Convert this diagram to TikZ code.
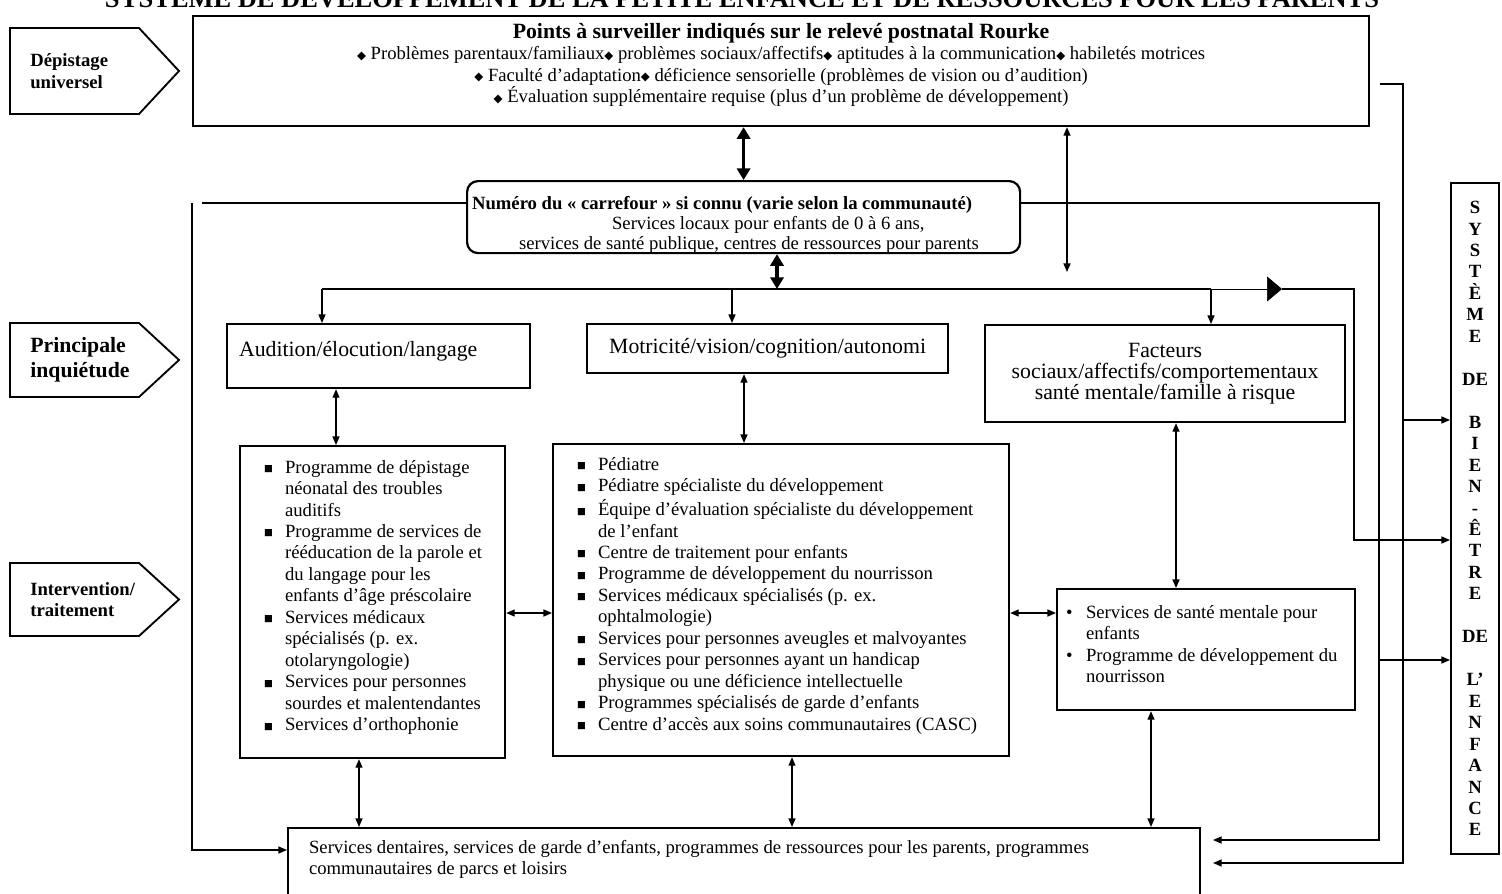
\documentclass[tikz,border=0pt]{standalone}
\usepackage{fontspec}
\setmainfont{Liberation Serif}
\newfontfamily\symfont{DejaVu Sans}
\usetikzlibrary{arrows.meta}

\newdimen\pxu
\pxu=0.643pt
\newcommand\dia{{\symfont\fontsize{7.5}{7.5}\selectfont\raisebox{0.4pt}{◆}}}
\newcommand\sqbul{{\symfont\fontsize{6}{6}\selectfont\raisebox{1pt}{■}}}
\newcommand\bodyfont{\fontsize{12}{13.8}\selectfont}
\newcommand\catfont{\fontsize{14}{16.1}\selectfont}
% text inside a box: width, height, top padding (px), text
\newcommand\inbox[4]{\parbox[c][#2\pxu][t]{#1\pxu}{\vspace*{#3\pxu}#4}}
\newcommand\inboxc[3]{\parbox[c][#2\pxu][c]{#1\pxu}{#3}}
\newcommand\sqitem[1]{\par\hangindent=45\pxu\hangafter=1\noindent
  \hbox to 45\pxu{\hskip24\pxu\sqbul\hfil\strut}#1}
\newcommand\dotitem[1]{\par\hangindent=29\pxu\hangafter=1\noindent
  \hbox to 29\pxu{\hskip9\pxu•\hfil\strut}#1}

\begin{document}
\begin{tikzpicture}[x=0.643pt, y=-0.643pt,
  box/.style={draw, line width=1.4pt, inner sep=0pt, anchor=north west},
  link/.style={line width=0.9pt},
  big/.style={line width=2.4pt, >={Triangle[length=7.5pt,width=8.5pt]}, <->},
  stage/.style={line width=1.2pt, line join=miter},
  stagetxt/.style={anchor=west, align=left, inner sep=0pt},
  >={Triangle[length=5.5pt,width=4.5pt]}]
\path[use as bounding box, fill=white] (0,0) rectangle (1502,894);

% title, cut by the page edge
\node[anchor=base, inner sep=0pt, font=\fontsize{17}{17}\selectfont\bfseries] (title) at (742,7)
  {SYSTÈME DE DÉVELOPPEMENT DE LA PETITE ENFANCE ET DE RESSOURCES POUR LES PARENTS};

% stages on the left
\foreach \nm/\tp/\bt/\sz/\bs/\lbl in {scr/28/114/12/14/{Dépistage\\universel},
    conc/323/397/14/16/{Principale\\inquiétude},
    trt/563/636/12/13.5/{Intervention/\\traitement}}{
  \draw[stage] (10,\tp) -- (139,\tp) -- (179,{(\tp+\bt)/2}) -- (139,\bt) -- (10,\bt) -- cycle;
  \node[stagetxt, font=\fontsize{\sz}{\bs}\selectfont\bfseries] (\nm) at (30,{(\tp+\bt)/2}) {\lbl};
}

% boxes
\node[box] (surv) at (192,15) {\inbox{1176}{110}{5}{\centering\bodyfont
  {\fontsize{14}{16}\selectfont\bfseries\strut Points à surveiller indiqués sur le relevé postnatal Rourke}\\
  \dia\ Problèmes parentaux/familiaux\dia\ problèmes sociaux/affectifs\dia\ aptitudes à la communication\dia\ habiletés motrices\\
  \dia\ Faculté d’adaptation\dia\ déficience sensorielle (problèmes de vision ou d’audition)\\
  \dia\ Évaluation supplémentaire requise (plus d’un problème de développement)}};
\node[box, rounded corners=7pt] (carr) at (466,180) {\inbox{553}{72}{14}{\fontsize{12}{12.9}\selectfont\raggedright
  \hspace*{5\pxu}\strut\textbf{Numéro du « carrefour » si connu (varie selon la communauté)}\\
  \hspace*{145\pxu}Services locaux pour enfants de 0 à 6 ans,\\
  \hspace*{52\pxu}services de santé publique, centres de ressources pour parents}};
\node[box] (aud) at (226,323) {\inbox{303}{64}{15}{\catfont\strut\hspace*{12\pxu}Audition/élocution/langage}};
\node[box] (mot) at (586,323) {\inboxc{361}{49}{\catfont\centering Motricité/vision/cognition/autonomi}};
\node[box] (fac) at (984,324) {\inboxc{360}{97}{\fontsize{14}{13.5}\selectfont\centering
  Facteurs\\ sociaux/affectifs/comportementaux\\ santé mentale/famille à risque}};
\node[box] (lbox) at (239,445) {\inbox{265}{312}{12}{\bodyfont\raggedright
  \sqitem{Programme de dépistage\newline néonatal des troubles\newline auditifs}
  \sqitem{Programme de services de\newline rééducation de la parole et\newline du langage pour les\newline enfants d’âge préscolaire}
  \sqitem{Services médicaux\newline spécialisés (p. ex.\newline otolaryngologie)}
  \sqitem{Services pour personnes\newline sourdes et malentendantes}
  \sqitem{Services d’orthophonie}}};
\node[box] (mbox) at (552,443) {\inbox{456}{312}{11}{\bodyfont\raggedright
  \sqitem{Pédiatre}
  \sqitem{Pédiatre spécialiste du développement}
  \sqitem{Équipe d’évaluation spécialiste du développement\newline de l’enfant}
  \sqitem{Centre de traitement pour enfants}
  \sqitem{Programme de développement du nourrisson}
  \sqitem{Services médicaux spécialisés (p. ex.\newline ophtalmologie)}
  \sqitem{Services pour personnes aveugles et malvoyantes}
  \sqitem{Services pour personnes ayant un handicap\newline physique ou une déficience intellectuelle}
  \sqitem{Programmes spécialisés de garde d’enfants}
  \sqitem{Centre d’accès aux soins communautaires (CASC)}}};
\node[box] (rbox) at (1056,588) {\inbox{298}{121}{14}{\bodyfont\raggedright
  \dotitem{Services de santé mentale pour\newline enfants}
  \dotitem{Programme de développement du\newline nourrisson}}};
\node[box] (bot) at (287,827) {\inbox{912}{90}{10}{\bodyfont\raggedright\leftskip=21\pxu
  \strut Services dentaires, services de garde d’enfants, programmes de ressources pour les parents, programmes\\
  communautaires de parcs et loisirs}};
\node[box] (sys) at (1450,182) {\inboxc{48}{671}{\fontsize{12}{13.8}\selectfont\bfseries\centering
  S\\Y\\S\\T\\È\\M\\E\\\mbox{}\\DE\\\mbox{}\\B\\I\\E\\N\\-\\Ê\\T\\R\\E\\\mbox{}\\DE\\\mbox{}\\L’\\E\\N\\F\\A\\N\\C\\E}};

% hub links
\draw[big] (carr.north) -- (carr.north |- surv.south);
\coordinate (tap) at (777,289);
\draw[big] (tap |- carr.south) -- (tap);
\coordinate (fr) at (1067,272);
\draw[link,<->] (fr |- surv.south) -- (fr);

% bus to the three concerns
\coordinate (bL) at (322,289);
\coordinate (bM) at (732,289);
\coordinate (bF) at (1211,289);
\coordinate (bT) at (1282,289);
\coordinate (bR) at (1354,289);
\coordinate (bD) at (1354,540);
\draw[link] (bL) -- (bF);
\draw[line width=0.4pt, -{Triangle[length=9.6pt,width=16pt]}] (bF) -- (bT);
\draw[link,->] (bT) -- (bR) -- (bD) -- (bD -| sys.west);
\foreach \src/\dst in {bL/aud, bM/mot, bF/fac}
  \draw[link,->] (\src) -- (\src |- \dst.north);

% right rails
\coordinate (oA) at (1380,84);
\coordinate (rA) at (1403,84);
\coordinate (rAd) at (1403,863);
\coordinate (eA) at (1213,863);
\coordinate (sA) at (1403,420);
\draw[link,->] (oA) -- (rA) -- (rAd) -- (eA);
\draw[link,->] (sA) -- (sA -| sys.west);
\coordinate (rB) at (1379,203);
\coordinate (rBd) at (1379,840);
\coordinate (eB) at (1213,840);
\coordinate (sB) at (1379,660);
\draw[link,->] (rB -| carr.east) -- (rB) -- (rBd) -- (eB);
\draw[link,->] (sB) -- (sB -| sys.west);

% left rail
\coordinate (lT) at (202,203);
\coordinate (lV) at (192,203);
\coordinate (lB) at (192,850);
\draw[link] (lT -| carr.west) -- (lT);
\draw[link,->] (lV) -- (lB) -- (lB -| bot.west);

% box to box
\foreach \p/\q/\xx in {aud/lbox/336, mot/mbox/744, fac/rbox/1176, lbox/bot/359, mbox/bot/792, rbox/bot/1151}
  \draw[link,<->] (\p.south -| \xx,0) -- (\q.north -| \xx,0);
\coordinate (hz) at (0,613);
\draw[link,<->] (hz -| lbox.east) -- (hz -| mbox.west);
\draw[link,<->] (hz -| mbox.east) -- (hz -| rbox.west);
\end{tikzpicture}
\end{document}
